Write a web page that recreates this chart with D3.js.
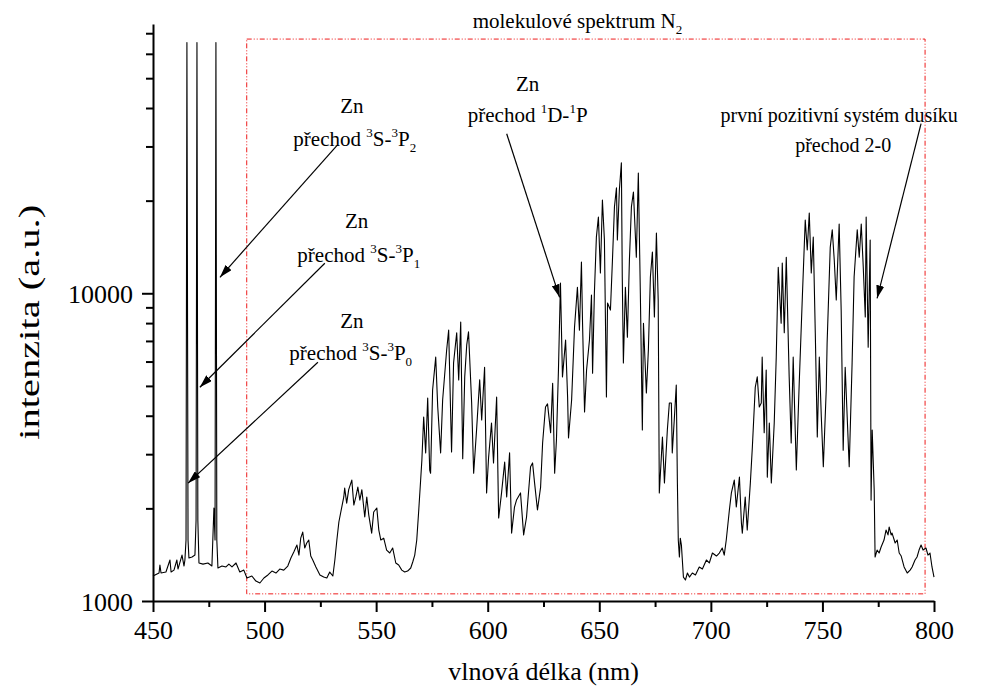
<!DOCTYPE html>
<html>
<head>
<meta charset="utf-8">
<script src="https://cdn.jsdelivr.net/npm/d3@7"></script>
</head>
<body style="margin:0">
<svg id="chart" width="991" height="690"></svg>
<script>
// spectrum: wavelength (nm) and intensity (a.u.)
const spectrumNm = [450.0,451.8,452.7,453.1,453.6,455.8,457.6,458.1,459.4,460.7,461.2,463.0,463.9,464.3,464.8,465.2,465.7,466.1,467.5,468.8,469.3,469.7,470.1,470.6,472.4,474.6,476.4,477.3,477.8,478.2,478.6,479.1,480.9,482.7,484.0,485.4,487.2,488.9,490.7,492.1,494.3,496.1,497.9,499.7,501.5,503.3,505.1,506.8,508.6,510.4,511.8,513.1,514.5,515.4,516.2,517.1,518.0,518.9,519.8,520.7,521.6,523.0,524.8,526.5,527.9,529.2,530.6,531.5,532.4,533.3,534.6,535.5,535.9,536.8,537.7,539.1,540.0,540.9,541.8,542.7,543.6,544.9,545.8,546.7,548.0,548.9,550.3,551.2,552.1,553.4,554.7,556.1,557.4,558.8,560.1,561.5,562.8,564.1,565.5,566.4,567.3,568.2,569.1,570.0,570.5,571.3,572.2,573.1,574.0,574.4,575.3,576.7,577.6,578.9,579.8,581.6,582.5,583.8,584.7,586.1,587.0,587.9,588.8,589.7,590.6,591.4,592.8,593.7,595.0,596.4,597.3,598.6,599.5,600.4,601.7,602.6,604.0,604.9,606.2,607.6,608.5,609.8,610.7,612.0,612.9,614.7,616.1,617.4,619.2,620.1,621.0,622.3,623.7,624.6,625.9,626.8,628.2,629.1,630.0,630.8,631.7,632.6,633.5,634.9,635.8,636.2,637.6,638.9,640.2,641.1,642.0,642.5,643.4,644.3,645.6,646.5,647.0,647.8,648.7,649.6,650.5,651.4,652.3,653.2,653.7,655.0,655.9,656.8,657.7,658.1,659.0,659.9,660.3,660.8,661.7,662.6,663.5,664.4,665.3,666.6,667.5,668.4,669.3,669.8,671.1,672.0,672.9,673.8,674.7,675.6,676.4,676.9,677.8,678.3,679.2,680.5,681.4,682.3,682.7,683.6,684.5,685.0,685.4,685.9,686.3,686.8,687.7,688.6,689.5,690.4,691.7,693.1,694.8,696.2,698.0,699.3,700.7,702.5,703.8,705.1,706.0,706.9,708.3,709.2,710.5,711.4,712.8,713.7,714.1,715.4,716.3,717.7,718.6,719.9,720.8,721.7,722.6,723.0,723.9,724.8,725.3,726.2,727.1,728.4,729.3,730.2,731.5,732.0,732.9,733.8,735.1,736.0,736.9,738.3,739.6,741.0,742.3,743.2,744.1,745.0,745.9,746.8,747.7,748.6,749.5,750.4,751.7,752.1,753.5,754.4,755.3,756.2,757.5,758.4,759.3,760.2,761.1,762.0,763.3,764.2,765.6,766.5,767.4,768.3,769.2,769.6,770.5,771.4,771.8,772.3,773.2,773.6,774.5,775.4,776.3,777.6,778.5,779.4,779.9,780.8,781.2,782.6,783.5,784.4,785.3,786.6,788.0,789.3,790.2,791.5,792.4,793.3,794.2,795.1,796.4,797.3,798.2,799.1,800.0];
const spectrumCounts = [1206,1224,1233,1309,1233,1242,1359,1242,1260,1359,1270,1410,1299,1359,1578,65300,1578,1380,1390,1410,1830,65300,1830,1329,1318,1329,1299,2005,1578,65300,1578,1280,1299,1290,1318,1290,1329,1242,1260,1188,1206,1161,1144,1188,1215,1251,1233,1270,1260,1299,1380,1443,1520,1410,1600,1675,1487,1543,1578,1400,1359,1290,1215,1196,1188,1242,1206,1359,1578,1806,2020,2178,2328,2080,2300,2471,2050,2178,2345,2128,2300,1875,2178,1902,1662,1946,2005,1700,1578,1600,1464,1432,1487,1329,1309,1260,1242,1251,1280,1339,1410,1578,1976,2510,2872,3960,3030,4570,2665,2600,4850,6200,4270,3030,4500,6540,7590,3050,5940,7440,5230,8070,2900,5350,6800,7490,4400,2600,3595,5230,3875,5750,2245,2930,3790,2810,4600,1860,2245,2830,2180,3030,1662,2020,2128,2245,1640,1875,2730,2810,2420,1976,2345,3260,4270,4370,3520,5100,2600,3335,5630,10800,5350,7050,4600,3390,4500,7760,10450,7590,12640,7990,4115,5630,7050,9870,5500,10000,15220,17700,11640,20100,14900,4600,9300,8820,12830,19100,22000,14900,21660,26530,11300,5940,10450,7200,12830,19100,21330,13100,24600,10000,3595,7990,4740,6540,11300,13620,8370,15700,9510,2245,2930,3410,2420,3595,4400,4400,3030,3875,5030,2420,1578,1390,1600,1520,1196,1170,1233,1196,1233,1215,1290,1270,1359,1329,1432,1400,1432,1487,1410,1578,1976,2245,2471,2020,2527,1790,1662,2178,1700,2420,3165,4950,5350,4270,4400,6200,3520,5630,2527,3790,2420,3790,6200,12150,7990,12540,7440,13100,5350,3260,6200,2665,5100,9730,17300,13820,18240,11640,15220,7440,3410,6200,3960,2730,4850,6900,14100,16080,12830,9510,16800,8820,3090,5750,3960,2730,5940,11300,16080,13100,16800,12150,8370,17700,6680,14900,2128,3595,2295,1390,1464,1432,1498,1578,1700,1640,1740,1640,1662,1543,1578,1432,1400,1290,1233,1260,1290,1359,1390,1464,1520,1464,1487,1410,1432,1290,1196];

const xMajorTicks = [450, 500, 550, 600, 650, 700, 750, 800];
const xMinorTicks = [475, 525, 575, 625, 675, 725, 775];
const yMajorTicks = [1000, 10000];
const yMinorTicks = [2000, 3000, 4000, 5000, 6000, 7000, 8000, 9000, 20000, 30000, 40000, 50000, 60000, 70000];

// red box around the N2 band region: [nm, nm] x [counts, counts]
const n2BoxNm = [492, 796];
const n2BoxCounts = [1055, 67000];

// annotation text lines: anchor (nm, counts), parts with sup/sub marks
const labels = [
  { nm: 640.2, c: 73000, parts: [["molekulové spektrum N"], ["2", "sub"]] },
  { nm: 617.9, c: 45300, parts: [["Zn"]] },
  { nm: 617.9, c: 35900, parts: [["přechod "], ["1", "sup"], ["D-"], ["1", "sup"], ["P"]] },
  { nm: 757.5, c: 35900, parts: [["první pozitivní systém dusíku"]], size: 20 },
  { nm: 759.3, c: 28700, parts: [["přechod 2-0"]], size: 20 },
  { nm: 539.1, c: 38400, parts: [["Zn"]] },
  { nm: 540.4, c: 30000, parts: [["přechod "], ["3", "sup"], ["S-"], ["3", "sup"], ["P"], ["2", "sub"]] },
  { nm: 541.3, c: 16260, parts: [["Zn"]] },
  { nm: 542.2, c: 12610, parts: [["přechod "], ["3", "sup"], ["S-"], ["3", "sup"], ["P"], ["1", "sub"]] },
  { nm: 539.1, c: 7700, parts: [["Zn"]] },
  { nm: 538.6, c: 6060, parts: [["přechod "], ["3", "sup"], ["S-"], ["3", "sup"], ["P"], ["0", "sub"]] }
];

// arrows: from (nm, counts) to (nm, counts)
const arrows = [
  [532.4, 30200, 480.0, 11270],
  [527.0, 12520, 471.0, 4950],
  [523.9, 5970, 465.7, 2415],
  [608.5, 33000, 632.2, 9700],
  [794.2, 35600, 774.5, 9630]
];

const svg = d3.select("#chart");
const serif = "'Liberation Serif'";
const margin = { top: 24, right: 57, bottom: 89, left: 153 };
const width = 991 - margin.left - margin.right;
const height = 690 - margin.top - margin.bottom;

const x = d3.scaleLinear().domain([450, 800]).range([margin.left, margin.left + width]);
const y = d3.scaleLog().domain([1000, 75000]).range([margin.top + height, margin.top]);

// measure the text in the serif face, then pin its length and position
function placeText(t, pos, align) {
  t.style("font-family", serif).attr("text-anchor", "start");
  t.selectAll("tspan").style("font-family", serif);
  const w = t.node().getComputedTextLength();
  t.attr("x", align === "end" ? pos - w : pos - w / 2)
    .attr("textLength", w.toFixed(1))
    .attr("lengthAdjust", "spacingAndGlyphs");
}

const defs = svg.append("defs");
defs.append("marker")
  .attr("id", "head")
  .attr("viewBox", "0 0 13 8")
  .attr("refX", 13)
  .attr("refY", 4)
  .attr("markerWidth", 13)
  .attr("markerHeight", 8)
  .attr("markerUnits", "userSpaceOnUse")
  .attr("orient", "auto")
  .append("path")
  .attr("d", "M0,0L13,4L0,8Z")
  .attr("fill", "#000");

// dash-dot-dot box
svg.append("rect")
  .attr("x", x(n2BoxNm[0]))
  .attr("y", y(n2BoxCounts[1]))
  .attr("width", x(n2BoxNm[1]) - x(n2BoxNm[0]))
  .attr("height", y(n2BoxCounts[0]) - y(n2BoxCounts[1]))
  .attr("fill", "none")
  .attr("stroke", "#ee1c1c")
  .attr("stroke-width", 1)
  .attr("stroke-dasharray", "5,2,1,2,1,2");

const line = d3.line()
  .x(d => x(d[0]))
  .y(d => y(d[1]));

svg.append("path")
  .datum(d3.zip(spectrumNm, spectrumCounts))
  .attr("d", line)
  .attr("fill", "none")
  .attr("stroke", "#000")
  .attr("stroke-width", 1.1)
  .attr("stroke-linejoin", "round");

// axes
const xAxis = svg.append("g")
  .attr("transform", "translate(0," + (margin.top + height) + ")")
  .call(d3.axisBottom(x).tickValues(xMajorTicks).tickSize(11).tickSizeOuter(0).tickFormat(d3.format("d")));
svg.append("g")
  .attr("transform", "translate(0," + (margin.top + height) + ")")
  .call(d3.axisBottom(x).tickValues(xMinorTicks).tickSize(6).tickSizeOuter(0).tickFormat(""))
  .call(g => g.select(".domain").remove());

const yAxis = svg.append("g")
  .attr("transform", "translate(" + margin.left + ",0)")
  .call(d3.axisLeft(y).tickValues(yMajorTicks).tickSize(11).tickSizeOuter(0).tickFormat(d3.format("d")));
svg.append("g")
  .attr("transform", "translate(" + margin.left + ",0)")
  .call(d3.axisLeft(y).tickValues(yMinorTicks).tickSize(7).tickSizeOuter(0).tickFormat(""))
  .call(g => g.select(".domain").remove());

svg.selectAll("g").attr("font-family", null).attr("text-anchor", null);
svg.selectAll(".domain, .tick line").attr("stroke-width", 2);

xAxis.selectAll(".tick text").each(function() {
  const t = d3.select(this).attr("font-size", 26).attr("dy", null).attr("y", 38);
  placeText(t, 0, "middle");
});
yAxis.selectAll(".tick text").each(function() {
  const t = d3.select(this).attr("font-size", 26).attr("dy", null).attr("y", 9);
  placeText(t, -20, "end");
});

placeText(svg.append("text")
  .attr("y", 680)
  .attr("font-size", 26)
  .text("vlnová délka (nm)"), x(625), "middle");

svg.append("text")
  .attr("transform", "translate(39," + y(8050) + ") rotate(-90)")
  .attr("text-anchor", "middle")
  .attr("font-size", 30)
  .attr("textLength", 235)
  .attr("lengthAdjust", "spacingAndGlyphs")
  .style("font-family", serif)
  .text("intenzita (a.u.)");

// annotations
labels.forEach(l => {
  const size = l.size || 21;
  const t = svg.append("text")
    .attr("y", y(l.c))
    .attr("font-size", size);
  let shift = 0;
  l.parts.forEach(p => {
    const target = p[1] === "sup" ? -9 : p[1] === "sub" ? 6 : 0;
    const ts = t.append("tspan").attr("dy", target - shift).text(p[0]);
    if (p[1]) ts.attr("font-size", 13);
    shift = target;
  });
  placeText(t, x(l.nm), "middle");
});

svg.selectAll(".arrow")
  .data(arrows)
  .enter()
  .append("line")
  .attr("class", "arrow")
  .attr("x1", d => x(d[0]))
  .attr("y1", d => y(d[1]))
  .attr("x2", d => x(d[2]))
  .attr("y2", d => y(d[3]))
  .attr("stroke", "#000")
  .attr("stroke-width", 1.2)
  .attr("marker-end", "url(#head)");
</script>
</body>
</html>
